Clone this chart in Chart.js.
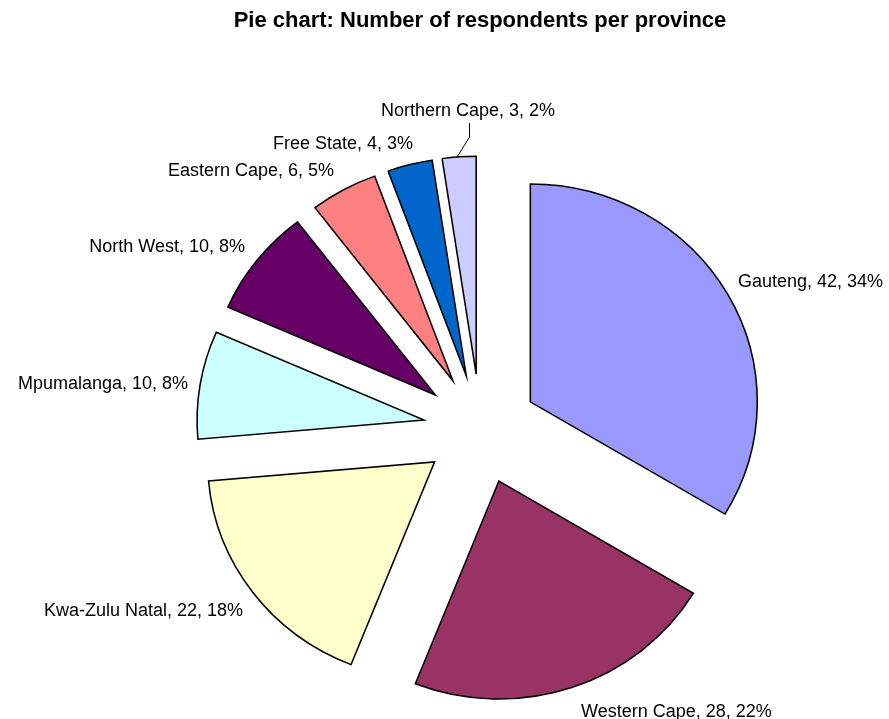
<!DOCTYPE html>
<html>
<head>
<meta charset="utf-8">
<script src="https://cdn.jsdelivr.net/npm/chart.js@4.4.1/dist/chart.umd.min.js"></script>
<style>
  html, body { margin: 0; padding: 0; background: #ffffff; }
  #wrap { width: 889px; height: 719px; position: relative; }
</style>
</head>
<body>
<div id="wrap"><canvas id="pie"></canvas></div>
<script>
// Respondents per province
const provinces = ['Gauteng', 'Western Cape', 'Kwa-Zulu Natal', 'Mpumalanga',
                   'North West', 'Eastern Cape', 'Free State', 'Northern Cape'];
const respondents = [42, 28, 22, 10, 10, 6, 4, 3];
const sliceColors = ['#9999FF', '#993366', '#FFFFCC', '#CCFFFF',
                     '#660066', '#FF8080', '#0066CC', '#CCCCFF'];
const chartTitle = 'Pie chart: Number of respondents per province';

// Geometry of the exploded pie
const PIE_RADIUS = 218;     // px, before horizontal stretch
const EXPLODE = 55;         // px each slice is pushed out from the centre
const STRETCH_X = 1.041;    // pie is drawn slightly wider than tall

// Where each data label sits (x, baseline y, alignment)
const labelLayout = [
  { x: 738, y: 287, align: 'left' },
  { x: 581, y: 717, align: 'left' },
  { x: 243, y: 616, align: 'right' },
  { x: 188, y: 389, align: 'right' },
  { x: 245, y: 252, align: 'right' },
  { x: 334, y: 176, align: 'right' },
  { x: 273, y: 149, align: 'left' },
  { x: 381, y: 116, align: 'left' }
];
// Leader line from the Northern Cape label to its slice
const leaderLine = [[469, 123], [469, 137], [456, 158]];

const total = respondents.reduce((a, b) => a + b, 0);
const FONT = '"Liberation Sans", Arial, Helvetica, sans-serif';

const explodedPie = {
  id: 'explodedPie',
  beforeDatasetsDraw(chart) {
    const ctx = chart.ctx;
    const meta = chart.getDatasetMeta(0);
    meta.data.forEach(arc => {
      const p = arc.getProps(['x', 'y', 'startAngle', 'endAngle'], true);
      const mid = (p.startAngle + p.endAngle) / 2;
      ctx.save();
      ctx.translate(p.x, p.y);
      ctx.scale(STRETCH_X, 1);
      ctx.translate(Math.cos(mid) * EXPLODE, Math.sin(mid) * EXPLODE);
      ctx.translate(-p.x, -p.y);
      arc.draw(ctx);
      ctx.restore();
    });
    return false;
  },
  afterDraw(chart) {
    const ctx = chart.ctx;
    ctx.save();
    // title
    ctx.fillStyle = '#000';
    ctx.textAlign = 'center';
    ctx.textBaseline = 'alphabetic';
    ctx.font = 'bold 22px ' + FONT;
    ctx.fillText(chartTitle, 480, 27);
    // data labels
    ctx.font = '18px ' + FONT;
    respondents.forEach((v, i) => {
      const pct = Math.round(v / total * 100);
      const text = provinces[i] + ', ' + v + ', ' + pct + '%';
      const pos = labelLayout[i];
      ctx.textAlign = pos.align;
      ctx.fillText(text, pos.x, pos.y);
    });
    // leader line
    ctx.strokeStyle = '#000';
    ctx.lineWidth = 1;
    ctx.beginPath();
    leaderLine.forEach(([x, y], k) => k ? ctx.lineTo(x + 0.5, y) : ctx.moveTo(x + 0.5, y));
    ctx.stroke();
    ctx.restore();
  }
};

new Chart(document.getElementById('pie'), {
  type: 'pie',
  data: {
    labels: provinces,
    datasets: [{
      data: respondents,
      backgroundColor: sliceColors,
      borderColor: '#000000',
      borderWidth: 1.5,
      borderJoinStyle: 'miter'
    }]
  },
  options: {
    responsive: true,
    maintainAspectRatio: false,
    animation: false,
    radius: PIE_RADIUS,
    rotation: 0,
    layout: { padding: { left: 72, top: 139, right: 0, bottom: 0 } },
    events: [],
    plugins: {
      legend: { display: false },
      title: { display: false },
      tooltip: { enabled: false }
    }
  },
  plugins: [explodedPie]
});
</script>
</body>
</html>
